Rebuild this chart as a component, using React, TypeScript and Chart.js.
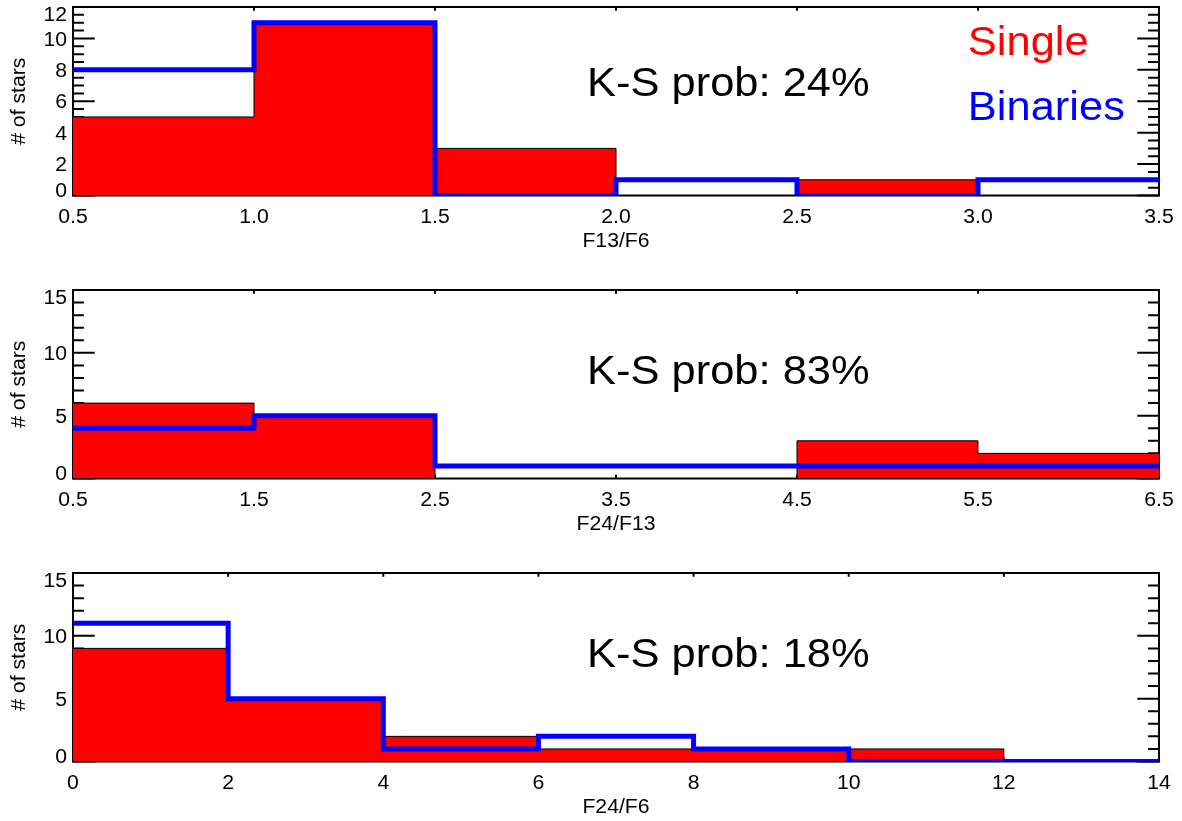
import { useEffect, useRef } from "react";
import { Chart, registerables } from "chart.js";

Chart.register(...registerables);

const FONT = '"Liberation Sans", Arial, Helvetica, sans-serif';
const RED = "#ff0000";
const BLUE = "#0000ff";

// F13/F6 histogram (bin edges and counts per bin)
const f13f6Edges = [0.5, 1.0, 1.5, 2.0, 2.5, 3.0, 3.5];
const f13f6Single = [5, 11, 3, 0, 1, 0];
const f13f6Binaries = [8, 11, 0, 1, 0, 1];
const f13f6XTicks = [0.5, 1.0, 1.5, 2.0, 2.5, 3.0, 3.5];
const f13f6XLabels = ["0.5", "1.0", "1.5", "2.0", "2.5", "3.0", "3.5"];
const f13f6YTicks = [0, 2, 4, 6, 8, 10, 12];

// F24/F13 histogram
const f24f13Edges = [0.5, 1.5, 2.5, 3.5, 4.5, 5.5, 6.5];
const f24f13Single = [6, 5, 0, 0, 3, 2];
const f24f13Binaries = [4, 5, 1, 1, 1, 1];
const f24f13XTicks = [0.5, 1.5, 2.5, 3.5, 4.5, 5.5, 6.5];
const f24f13XLabels = ["0.5", "1.5", "2.5", "3.5", "4.5", "5.5", "6.5"];
const f24f13YTicks = [0, 5, 10, 15];

// F24/F6 histogram
const f24f6Edges = [0, 2, 4, 6, 8, 10, 12, 14];
const f24f6Single = [9, 5, 2, 1, 1, 1, 0];
const f24f6Binaries = [11, 5, 1, 2, 1, 0, 0];
const f24f6XTicks = [0, 2, 4, 6, 8, 10, 12, 14];
const f24f6XLabels = ["0", "2", "4", "6", "8", "10", "12", "14"];
const f24f6YTicks = [0, 5, 10, 15];

const ksLabels = ["K-S prob: 24%", "K-S prob: 83%", "K-S prob: 18%"];
const xTitles = ["F13/F6", "F24/F13", "F24/F6"];
const yTitle = "# of stars";
const legendLabels = ["Single", "Binaries"];

type PanelDef = {
  edges: number[];
  single: number[];
  binaries: number[];
  xTicks: number[];
  xLabels: string[];
  yTicks: number[];
  yMinorPerMajor: number;
  xTitle: string;
  ks: string;
  ksBaseline: number; // fraction of plot height from top
  legend: boolean;
  top: number;
};

const panels: PanelDef[] = [
  {
    edges: f13f6Edges, single: f13f6Single, binaries: f13f6Binaries,
    xTicks: f13f6XTicks, xLabels: f13f6XLabels, yTicks: f13f6YTicks,
    yMinorPerMajor: 4, xTitle: xTitles[0], ks: ksLabels[0], ksBaseline: 0.4746,
    legend: true, top: 0,
  },
  {
    edges: f24f13Edges, single: f24f13Single, binaries: f24f13Binaries,
    xTicks: f24f13XTicks, xLabels: f24f13XLabels, yTicks: f24f13YTicks,
    yMinorPerMajor: 5, xTitle: xTitles[1], ks: ksLabels[1], ksBaseline: 0.5,
    legend: false, top: 283,
  },
  {
    edges: f24f6Edges, single: f24f6Single, binaries: f24f6Binaries,
    xTicks: f24f6XTicks, xLabels: f24f6XLabels, yTicks: f24f6YTicks,
    yMinorPerMajor: 5, xTitle: xTitles[2], ks: ksLabels[2], ksBaseline: 0.5,
    legend: false, top: 566,
  },
];

const WIDTH = 1182;
const PAD_LEFT = 73;
const PAD_RIGHT = 23;
const PAD_TOP = 7;
const PLOT_H = 188.5;

function drawText(
  ctx: CanvasRenderingContext2D,
  text: string,
  x: number,
  y: number,
  size: number,
  color: string,
  align: CanvasTextAlign,
  rotate = 0,
  stretch = 1.06
) {
  ctx.save();
  ctx.translate(x, y);
  if (rotate) ctx.rotate(rotate);
  ctx.scale(stretch, 1);
  ctx.font = `${size}px ${FONT}`;
  ctx.fillStyle = color;
  ctx.textAlign = align;
  ctx.textBaseline = "alphabetic";
  ctx.fillText(text, 0, 0);
  ctx.restore();
}

// Step points: each bin's count is held from its left edge to the next edge.
function stepPoints(edges: number[], counts: number[]) {
  return edges.map((e, i) => ({ x: e, y: counts[Math.min(i, counts.length - 1)] }));
}

const idlFrame = {
  id: "idlFrame",
  beforeDatasetsDraw(chart: any, _args: any, opts: any) {
    const { ctx, chartArea: a, scales } = chart;
    const xs = scales.x;
    const ys = scales.y;
    const w = a.right - a.left;
    const h = a.bottom - a.top;
    const majorY = 0.02 * w;
    const minorY = 0.01 * w;
    const majorX = 0.02 * h;
    ctx.save();
    ctx.strokeStyle = "#000";
    ctx.lineWidth = 2;
    ctx.beginPath();
    const yt: number[] = opts.yTicks;
    for (let i = 0; i < yt.length; i++) {
      const y = ys.getPixelForValue(yt[i]);
      ctx.moveTo(a.left, y);
      ctx.lineTo(a.left + majorY, y);
      ctx.moveTo(a.right, y);
      ctx.lineTo(a.right - majorY, y);
      if (i < yt.length - 1) {
        const step = (yt[i + 1] - yt[i]) / opts.yMinorPerMajor;
        for (let k = 1; k < opts.yMinorPerMajor; k++) {
          const ym = ys.getPixelForValue(yt[i] + k * step);
          ctx.moveTo(a.left, ym);
          ctx.lineTo(a.left + minorY, ym);
          ctx.moveTo(a.right, ym);
          ctx.lineTo(a.right - minorY, ym);
        }
      }
    }
    for (const v of opts.xTicks as number[]) {
      const x = xs.getPixelForValue(v);
      ctx.moveTo(x, a.top);
      ctx.lineTo(x, a.top + majorX);
      ctx.moveTo(x, a.bottom);
      ctx.lineTo(x, a.bottom - majorX);
    }
    ctx.stroke();
    ctx.strokeRect(a.left, a.top, w, h);
    ctx.restore();
  },
  afterDatasetsDraw(chart: any, _args: any, opts: any) {
    const { ctx, chartArea: a } = chart;
    const w = a.right - a.left;
    const h = a.bottom - a.top;
    drawText(ctx, opts.ks, a.left + 0.4733 * w, a.top + opts.ksBaseline * h, 41, "#000", "left");
    if (opts.legend) {
      drawText(ctx, legendLabels[0], a.left + 0.824 * w, a.top + 0.254 * h, 41, RED, "left");
      drawText(ctx, legendLabels[1], a.left + 0.824 * w, a.top + 0.6 * h, 41, BLUE, "left");
    }
  },
  afterDraw(chart: any, _args: any, opts: any) {
    const { ctx, chartArea: a, scales } = chart;
    const xs = scales.x;
    const ys = scales.y;
    const size = 20;
    const capH = size * 0.716;
    const yt: number[] = opts.yTicks;
    yt.forEach((v, i) => {
      const y = ys.getPixelForValue(v);
      let base = y + capH / 2;
      if (i === 0) base = y + 1;
      else if (i === yt.length - 1) base = y + capH;
      drawText(ctx, String(v), a.left - 6, base, size, "#000", "right");
    });
    (opts.xTicks as number[]).forEach((v, i) => {
      drawText(ctx, opts.xLabels[i], xs.getPixelForValue(v), a.bottom + 27, size, "#000", "center");
    });
    drawText(ctx, opts.xTitle, (a.left + a.right) / 2, a.bottom + 51, size, "#000", "center");
    drawText(ctx, yTitle, 25, (a.top + a.bottom) / 2, size, "#000", "center", -Math.PI / 2);
  },
};

function Panel({ def, height }: { def: PanelDef; height: number }) {
  const ref = useRef<HTMLCanvasElement | null>(null);

  useEffect(() => {
    if (!ref.current) return;
    const yMax = def.yTicks[def.yTicks.length - 1];
    const chart = new Chart(ref.current, {
      type: "line",
      data: {
        datasets: [
          {
            label: legendLabels[1],
            data: stepPoints(def.edges, def.binaries),
            stepped: "before",
            borderColor: BLUE,
            borderWidth: 5,
            borderJoinStyle: "miter",
            borderCapStyle: "butt",
            pointRadius: 0,
            fill: false,
            order: 0,
          },
          {
            label: legendLabels[0],
            data: stepPoints(def.edges, def.single),
            stepped: "before",
            borderColor: "#000",
            borderWidth: 1,
            backgroundColor: RED,
            pointRadius: 0,
            fill: "origin",
            order: 1,
          },
        ],
      } as any,
      options: {
        animation: false,
        responsive: false,
        devicePixelRatio: 1,
        events: [],
        layout: {
          padding: {
            left: PAD_LEFT,
            right: PAD_RIGHT,
            top: PAD_TOP,
            bottom: height - PAD_TOP - PLOT_H,
          },
        },
        scales: {
          x: {
            type: "linear",
            display: false,
            min: def.edges[0],
            max: def.edges[def.edges.length - 1],
          },
          y: { type: "linear", display: false, min: 0, max: yMax },
        },
        plugins: {
          legend: { display: false },
          tooltip: { enabled: false },
          idlFrame: {
            yTicks: def.yTicks,
            yMinorPerMajor: def.yMinorPerMajor,
            xTicks: def.xTicks,
            xLabels: def.xLabels,
            xTitle: def.xTitle,
            ks: def.ks,
            ksBaseline: def.ksBaseline,
            legend: def.legend,
          },
        } as any,
      },
      plugins: [idlFrame as any],
    });
    return () => chart.destroy();
  }, [def, height]);

  return (
    <canvas
      ref={ref}
      width={WIDTH}
      height={height}
      style={{ position: "absolute", left: 0, top: def.top, width: WIDTH, height }}
    />
  );
}

export default function App() {
  return (
    <div
      style={{
        position: "absolute",
        left: 0,
        top: 0,
        width: WIDTH,
        height: 821,
        background: "#fff",
        overflow: "hidden",
      }}
    >
      {panels.map((p, i) => (
        <Panel key={i} def={p} height={i === panels.length - 1 ? 821 - p.top : 283} />
      ))}
    </div>
  );
}
